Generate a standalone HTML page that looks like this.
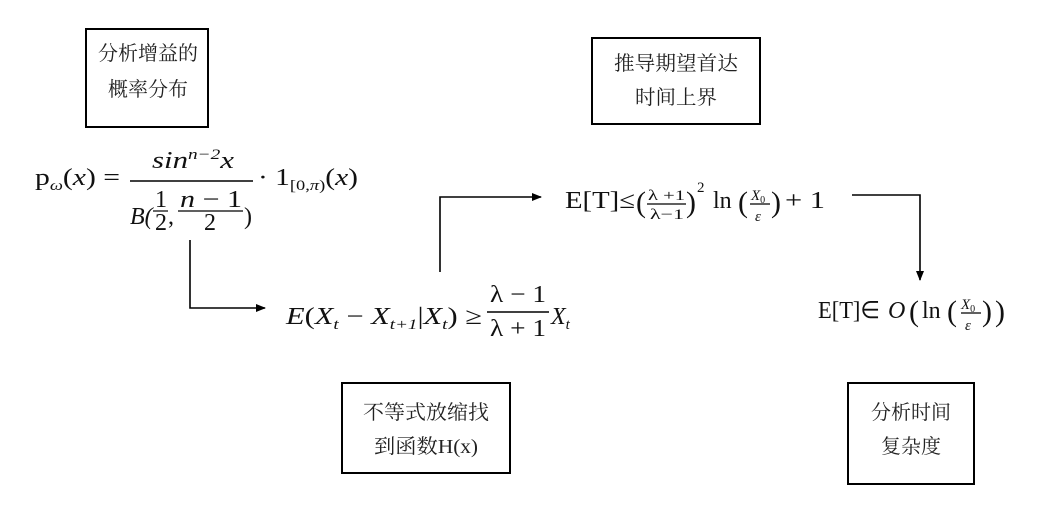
<!DOCTYPE html>
<html><head><meta charset="utf-8"><style>
html,body{margin:0;padding:0;background:#fff;}
svg{display:block;}
.cj{font-family:"Liberation Serif","Noto Serif CJK SC",serif;font-size:20px;fill:#222;}
.m{font-family:"Liberation Serif",serif;font-size:24px;fill:#111;}
.i{font-style:italic;}
.s{font-size:15px;}
</style></head><body>
<svg width="1046" height="513" viewBox="0 0 1046 513" xmlns="http://www.w3.org/2000/svg">
<defs><marker id="a" markerWidth="10" markerHeight="8" refX="9" refY="4" orient="auto" markerUnits="userSpaceOnUse"><path d="M0,0 L10,4 L0,8 z" fill="#000"/></marker></defs>
<g fill="none" stroke="#000" stroke-width="2">
<rect x="86" y="29" width="122" height="98"/>
<rect x="592" y="38" width="168" height="86"/>
<rect x="342" y="383" width="168" height="90"/>
<rect x="848" y="383" width="126" height="101"/>
</g>
<g class="cj" text-anchor="middle">
<text x="148" y="60" textLength="100" lengthAdjust="spacingAndGlyphs">分析增益的</text>
<text x="148" y="96" textLength="80" lengthAdjust="spacingAndGlyphs">概率分布</text>
<text x="676" y="70" textLength="124" lengthAdjust="spacingAndGlyphs">推导期望首达</text>
<text x="676" y="104" textLength="82" lengthAdjust="spacingAndGlyphs">时间上界</text>
<text x="426" y="419" textLength="126" lengthAdjust="spacingAndGlyphs">不等式放缩找</text>
<text x="426" y="453" textLength="104" lengthAdjust="spacingAndGlyphs">到函数H(x)</text>
<text x="911" y="419" textLength="80" lengthAdjust="spacingAndGlyphs">分析时间</text>
<text x="911" y="453" textLength="60" lengthAdjust="spacingAndGlyphs">复杂度</text>
</g>
<g fill="none" stroke="#000" stroke-width="1.6">
<polyline points="190,240 190,308 265,308" marker-end="url(#a)"/>
<polyline points="440,272 440,197 541,197" marker-end="url(#a)"/>
<polyline points="852,195 920,195 920,280" marker-end="url(#a)"/>
<line x1="130" y1="181" x2="253" y2="181"/>
<line x1="153" y1="211" x2="168" y2="211" stroke-width="1.2"/>
<line x1="178" y1="211" x2="243" y2="211" stroke-width="1.2"/>
<line x1="487" y1="312" x2="549" y2="312"/>
<line x1="647" y1="204" x2="686" y2="204" stroke-width="1.2"/>
<line x1="750" y1="204" x2="770" y2="204" stroke-width="1.2"/>
<line x1="961" y1="313" x2="981" y2="313" stroke-width="1.2"/>
</g>
<g class="m">
<text x="35" y="185" textLength="85" lengthAdjust="spacingAndGlyphs">p<tspan class="i s" dy="5">ω</tspan><tspan dy="-5">(</tspan><tspan class="i">x</tspan>) =</text>
<text x="152" y="168" textLength="82" lengthAdjust="spacingAndGlyphs"><tspan class="i">sin</tspan><tspan class="i s" dy="-9">n−2</tspan><tspan class="i" dy="9">x</tspan></text>
<text x="130" y="224" class="i">B(</text>
<text x="155" y="207">1</text><text x="155" y="230">2</text>
<text x="168" y="224">,</text>
<text x="180" y="207" textLength="62" lengthAdjust="spacingAndGlyphs"><tspan class="i">n</tspan> − 1</text>
<text x="204" y="230">2</text>
<text x="244" y="224">)</text>
<text x="258" y="185" textLength="100" lengthAdjust="spacingAndGlyphs">· 1<tspan class="s" dy="5">[0,<tspan class="i">π</tspan>)</tspan><tspan dy="-5">(</tspan><tspan class="i">x</tspan>)</text>
<text x="286" y="324" textLength="196" lengthAdjust="spacingAndGlyphs"><tspan class="i">E</tspan>(<tspan class="i">X</tspan><tspan class="i s" dy="5">t</tspan><tspan dy="-5"> − </tspan><tspan class="i">X</tspan><tspan class="i s" dy="5">t+1</tspan><tspan dy="-5">|</tspan><tspan class="i">X</tspan><tspan class="i s" dy="5">t</tspan><tspan dy="-5">) ≥</tspan></text>
<text x="490" y="302" textLength="56" lengthAdjust="spacingAndGlyphs">λ − 1</text>
<text x="490" y="336" textLength="56" lengthAdjust="spacingAndGlyphs">λ + 1</text>
<text x="551" y="324" class="i">X<tspan class="s" dy="5">t</tspan></text>
<text x="565" y="208" textLength="70" lengthAdjust="spacingAndGlyphs">E[T]≤</text>
<text x="636" y="212" style="font-size:30px">(</text>
<text x="648" y="200" class="s" textLength="37" lengthAdjust="spacingAndGlyphs">λ +1</text>
<text x="650" y="219" class="s" textLength="34" lengthAdjust="spacingAndGlyphs">λ−1</text>
<text x="686" y="212" style="font-size:30px">)</text>
<text x="697" y="192" class="s">2</text>
<text x="713" y="208">ln</text>
<text x="738" y="212" style="font-size:30px">(</text>
<text x="751" y="200" class="s i">X<tspan style="font-size:10px;font-style:normal" dy="3">0</tspan></text>
<text x="755" y="221" class="s i">ε</text>
<text x="771" y="212" style="font-size:30px">)</text>
<text x="785" y="208" textLength="40" lengthAdjust="spacingAndGlyphs">+ 1</text>
<text x="818" y="318" textLength="62" lengthAdjust="spacingAndGlyphs">E[T]∈</text>
<text x="888" y="318" class="i">O</text>
<text x="909" y="321" style="font-size:30px">(</text>
<text x="922" y="318">ln</text>
<text x="947" y="321" style="font-size:30px">(</text>
<text x="961" y="309" class="s i">X<tspan style="font-size:10px;font-style:normal" dy="3">0</tspan></text>
<text x="965" y="330" class="s i">ε</text>
<text x="982" y="321" style="font-size:30px">)</text>
<text x="995" y="321" style="font-size:30px">)</text>
</g>
</svg>
</body></html>
